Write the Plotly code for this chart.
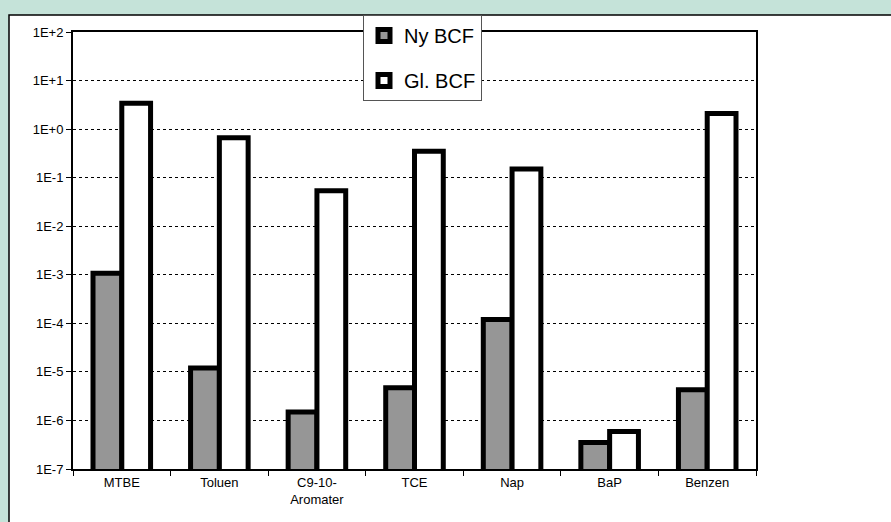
import plotly.graph_objects as go

categories = ["MTBE", "Toluen", "C9-10-<br>Aromater", "TCE", "Nap", "BaP", "Benzen"]
ny_bcf = [1.07e-3, 1.2e-5, 1.5e-6, 4.7e-6, 1.2e-4, 3.5e-7, 4.3e-6]
gl_bcf = [3.4, 0.66, 0.054, 0.35, 0.15, 5.9e-7, 2.1]
tick_vals = [1e-7, 1e-6, 1e-5, 1e-4, 1e-3, 1e-2, 1e-1, 1e0, 1e1, 1e2]
tick_text = ["1E-7", "1E-6", "1E-5", "1E-4", "1E-3", "1E-2", "1E-1", "1E+0", "1E+1", "1E+2"]

W, H = 891, 522
L, R, T, B = 73, 135, 32, 53
pw, ph = W - L - R, H - T - B

def px_x(p):
    return (p - L) / pw

def px_y(p):
    return (H - B - p) / ph

font = "Liberation Sans, Arial, sans-serif"

fig = go.Figure()
fig.add_trace(go.Bar(
    x=categories, y=ny_bcf, name="Ny BCF", legendgroup="a",
    marker=dict(color="#969696", line=dict(color="black", width=5)),
))
fig.add_trace(go.Bar(
    x=categories, y=gl_bcf, name="Gl. BCF", legendgroup="b",
    marker=dict(color="white", line=dict(color="black", width=5)),
))

fig.add_shape(
    type="rect", xref="paper", yref="paper",
    x0=px_x(9), x1=px_x(W + 20), y0=px_y(H + 20), y1=px_y(15),
    line=dict(color="black", width=1.5), fillcolor="white", layer="below",
)

fig.update_layout(
    width=W, height=H,
    margin=dict(l=L, r=R, t=T, b=B),
    paper_bgcolor="#C5E3D9",
    plot_bgcolor="white",
    barmode="group",
    bargap=0.41,
    bargroupgap=0,
    font=dict(family=font, size=13, color="black"),
    showlegend=True,
    legend=dict(
        x=px_x(363), y=px_y(15), xanchor="left", yanchor="top",
        bgcolor="white", bordercolor="#555555", borderwidth=1,
        font=dict(family=font, size=20, color="black"),
        traceorder="grouped", tracegroupgap=16,
        entrywidth=98, entrywidthmode="pixels",
    ),
    xaxis=dict(
        showline=True, linecolor="black", linewidth=2, mirror=True,
        ticks="outside", ticklen=5, tickcolor="black", tickson="boundaries",
        showgrid=False,
    ),
    yaxis=dict(
        type="log", range=[-7, 2],
        tickvals=tick_vals, ticktext=tick_text,
        showline=True, linecolor="black", linewidth=2, mirror=True,
        ticks="outside", ticklen=5, tickcolor="black",
        showgrid=True, gridcolor="black", gridwidth=1, griddash="dot",
        zeroline=False,
    ),
)

fig.write_html(
    "out.html",
    config={"displayModeBar": False},
    post_script="document.body.style.margin='0';document.body.style.overflow='hidden';",
)
